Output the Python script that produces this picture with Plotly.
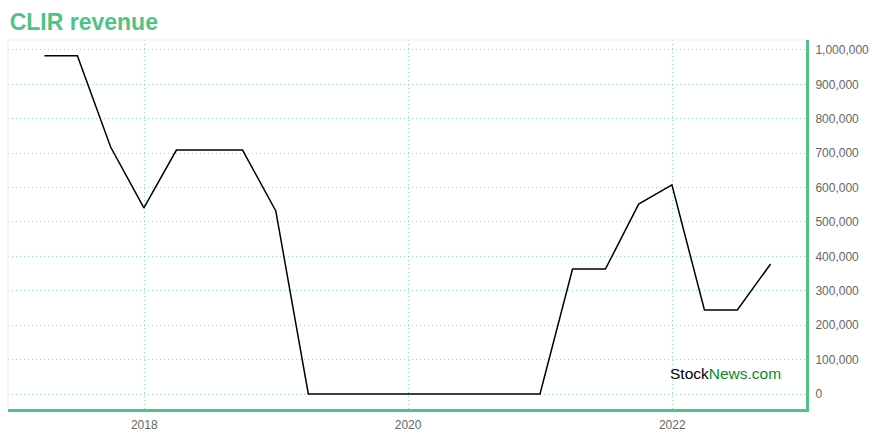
import plotly.graph_objects as go

dates = ["2017-03-31", "2017-06-30", "2017-09-30", "2017-12-31",
         "2018-03-31", "2018-06-30", "2018-09-30", "2018-12-31",
         "2019-03-31", "2019-06-30", "2019-09-30", "2019-12-31",
         "2020-03-31", "2020-06-30", "2020-09-30", "2020-12-31",
         "2021-03-31", "2021-06-30", "2021-09-30", "2021-12-31",
         "2022-03-31", "2022-06-30", "2022-09-30"]
revenue = [983000, 983000, 718000, 541000,
           709000, 709000, 709000, 532000,
           0, 0, 0, 0,
           0, 0, 0, 0,
           363000, 363000, 552000, 608000,
           244000, 244000, 378000]

GREEN = "#4fc386"
GRID = "rgba(79,195,134,0.6)"

fig = go.Figure()
fig.add_trace(go.Scatter(x=dates, y=revenue, mode="lines",
                         line=dict(color="black", width=1.5),
                         hoverinfo="x+y", showlegend=False))

fig.update_layout(
    width=880, height=440,
    margin=dict(l=8, r=74, t=40, b=31),
    paper_bgcolor="white", plot_bgcolor="white",
    font=dict(family="Liberation Sans, Arial, sans-serif", size=12, color="#666"),
    title=dict(text="<b>CLIR revenue</b>", x=0.011, xanchor="left", y=0.95, yanchor="middle",
               font=dict(size=23, color=GREEN, family="Liberation Sans, Arial, sans-serif")),
    xaxis=dict(type="date", range=["2016-12-20", "2023-01-06"],
               dtick="M24", tick0="2018-01-01", tickformat="%Y",
               showgrid=True, gridcolor=GRID, griddash="1px,3px", gridwidth=1,
               showline=True, linecolor=GREEN, linewidth=3,
               ticks="", zeroline=False, ticklabelstandoff=3),
    yaxis=dict(side="right", range=[-43600, 1029000], dtick=100000,
               tickformat=",d", showgrid=True, gridcolor=GRID, griddash="1px,3px",
               showline=True, linecolor=GREEN, linewidth=3,
               ticks="", zeroline=False, ticklabelstandoff=4),
    shapes=[
        dict(type="line", xref="paper", yref="paper", x0=0, x1=1, y0=1, y1=1,
             line=dict(color="#eeeeee", width=1)),
        dict(type="line", xref="paper", yref="paper", x0=0, x1=0, y0=0, y1=1,
             line=dict(color="#eeeeee", width=1)),
    ],
    annotations=[
        dict(text="<span style='color:black'>Stock</span><span style='color:#0a8a1f'>News.com</span>",
             xref="paper", yref="paper", x=0.971, y=0.095, xanchor="right", yanchor="middle",
             showarrow=False, font=dict(size=15.5, family="Liberation Sans, Arial, sans-serif"))
    ],
)

fig.write_html("out.html", config={"displayModeBar": False},
               post_script="document.body.style.margin='0';")
